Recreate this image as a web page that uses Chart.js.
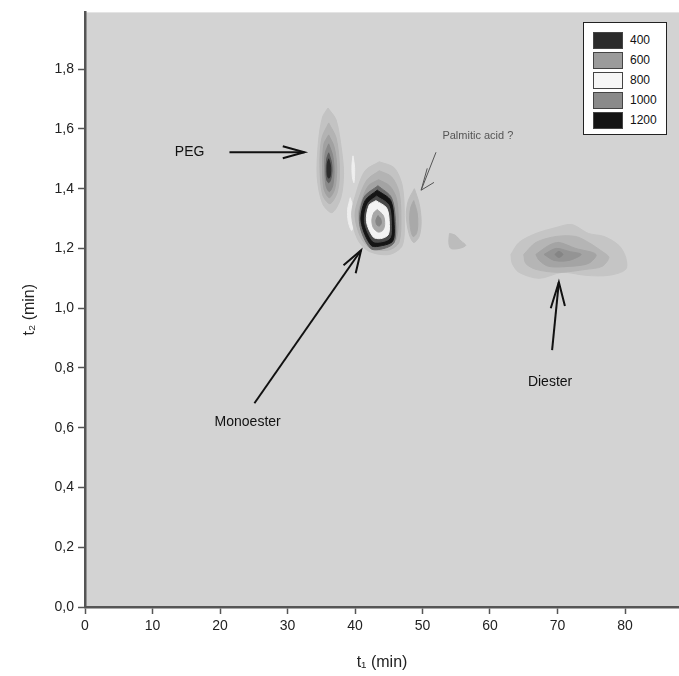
<!DOCTYPE html>
<html>
<head>
<meta charset="utf-8">
<script src="https://cdn.jsdelivr.net/npm/chart.js@4.4.0/dist/chart.umd.min.js"></script>
<style>
  body { margin: 0; background: #fff; }
  #wrap { position: relative; width: 679px; height: 676px; }
  #legendBox {
    position: absolute; left: 583px; top: 22px; width: 82px; height: 111px;
    background: #fff; border: 1px solid #222;
    font-family: "Liberation Sans", Arial, sans-serif; font-size: 12px; color: #111;
  }
  .row { position: absolute; left: 9px; height: 18px; display: flex; align-items: center; }
  .sw { width: 30px; height: 17px; border: 1px solid #444; box-sizing: border-box; margin-right: 7px; }
</style>
</head>
<body>
<div id="wrap">
  <canvas id="chart"></canvas>
  <div id="legendBox"></div>
</div>
<script>
// contour legend
const legendValues = ['400', '600', '800', '1000', '1200'];
const legendColors = ['#2b2b2b', '#9b9b9b', '#f6f6f6', '#8a8a8a', '#141414'];

// axis ticks
const xTicks = [0, 10, 20, 30, 40, 50, 60, 70, 80];
const yTicks = [0, 0.2, 0.4, 0.6, 0.8, 1.0, 1.2, 1.4, 1.6, 1.8];

// contour outlines, [t1 (min), t2 (min)]
// PEG
const peg1 = [[36.0,1.67],[37.2,1.63],[38.0,1.53],[38.3,1.45],[37.9,1.37],[36.6,1.32],[35.2,1.35],[34.4,1.44],[34.6,1.56],[35.2,1.64]];
const peg2 = [[36.1,1.62],[37.2,1.57],[37.7,1.47],[37.4,1.39],[36.3,1.35],[35.2,1.38],[34.8,1.48],[35.1,1.57]];
const peg3 = [[36.1,1.58],[36.9,1.54],[37.3,1.47],[37.0,1.40],[36.2,1.37],[35.4,1.40],[35.2,1.48],[35.4,1.55]];
const peg4 = [[36.1,1.55],[36.7,1.51],[36.9,1.46],[36.7,1.41],[36.2,1.39],[35.7,1.41],[35.5,1.47],[35.6,1.52]];
const peg5 = [[36.1,1.52],[36.5,1.49],[36.6,1.46],[36.4,1.43],[36.1,1.42],[35.8,1.43],[35.7,1.46],[35.8,1.50]];
const peg6 = [[36.1,1.50],[36.35,1.48],[36.4,1.46],[36.3,1.44],[36.1,1.435],[35.9,1.445],[35.85,1.465],[35.9,1.485]];
// white slivers
const sliver1 = [[39.7,1.51],[39.95,1.47],[39.85,1.42],[39.6,1.44],[39.55,1.48]];
const sliver2 = [[39.3,1.37],[39.8,1.33],[39.9,1.28],[39.5,1.26],[39.0,1.29],[38.9,1.33]];
// Monoester
const mono1 = [[43.6,1.49],[45.8,1.47],[47.0,1.41],[47.3,1.31],[47.0,1.21],[45.1,1.18],[42.1,1.19],[40.4,1.23],[39.5,1.31],[40.1,1.38],[41.5,1.46]];
const mono2 = [[43.6,1.46],[45.4,1.44],[46.5,1.39],[46.8,1.31],[46.5,1.22],[45.0,1.195],[42.3,1.20],[40.8,1.24],[40.0,1.31],[40.6,1.37],[41.8,1.43]];
const mono3 = [[43.5,1.43],[45.1,1.41],[46.1,1.37],[46.4,1.30],[46.1,1.23],[44.9,1.21],[42.5,1.21],[41.1,1.25],[40.5,1.31],[41.0,1.36],[42.0,1.41]];
const mono4 = [[43.4,1.41],[45.4,1.37],[46.0,1.29],[45.8,1.22],[44.3,1.20],[42.3,1.20],[40.7,1.28],[41.3,1.37]];
const mono5 = [[43.3,1.395],[45.3,1.36],[45.8,1.28],[45.6,1.225],[44.1,1.21],[42.4,1.21],[40.9,1.29],[41.5,1.36]];
const mono6 = [[43.2,1.375],[45.0,1.345],[45.4,1.28],[45.2,1.235],[43.9,1.222],[42.6,1.225],[41.4,1.29],[41.9,1.35]];
const mono7 = [[43.1,1.36],[44.7,1.335],[45.1,1.28],[44.9,1.245],[43.8,1.233],[42.7,1.238],[41.7,1.29],[42.1,1.345]];
const mono8 = [[43.3,1.33],[44.2,1.31],[44.4,1.28],[44.1,1.26],[43.4,1.255],[42.7,1.27],[42.5,1.295],[42.8,1.32]];
const mono9 = [[43.4,1.31],[43.8,1.30],[43.9,1.285],[43.6,1.275],[43.2,1.28],[43.1,1.295]];
// Palmitic acid
const palm1 = [[48.8,1.40],[49.5,1.35],[49.8,1.29],[49.5,1.24],[48.7,1.22],[48.0,1.25],[47.6,1.31],[47.9,1.36]];
const palm2 = [[48.7,1.36],[49.2,1.32],[49.3,1.28],[49.1,1.25],[48.6,1.24],[48.2,1.27],[48.1,1.31],[48.3,1.34]];
const spot1 = [[54.0,1.25],[54.8,1.245],[55.7,1.225],[56.4,1.21],[55.4,1.20],[54.2,1.20],[53.9,1.22]];
// Diester
const dies1 = [[63.1,1.18],[64.3,1.22],[66.8,1.25],[69.8,1.27],[72.1,1.28],[74.6,1.25],[76.9,1.24],[79.1,1.21],[80.1,1.17],[80.1,1.13],[77.6,1.11],[74.2,1.11],[70.7,1.12],[67.3,1.10],[64.3,1.12],[63.3,1.15]];
const dies2 = [[65.0,1.18],[66.8,1.22],[69.8,1.24],[72.7,1.24],[74.6,1.22],[76.6,1.19],[77.6,1.17],[76.6,1.14],[74.2,1.13],[70.2,1.12],[66.8,1.13],[65.3,1.15]];
const dies3 = [[66.8,1.18],[68.7,1.21],[70.2,1.22],[72.7,1.20],[75.7,1.18],[74.6,1.15],[71.7,1.14],[68.7,1.14],[67.3,1.16]];
const dies4 = [[68.0,1.18],[69.8,1.20],[71.7,1.19],[73.5,1.18],[71.7,1.16],[69.5,1.16]];
const dies5 = [[69.6,1.18],[70.2,1.19],[70.8,1.18],[70.2,1.17]];

// annotations
const labelTexts = ['PEG', 'Palmitic acid ?', 'Monoester', 'Diester'];
const labelX = [15.5, 58.2, 24.1, 68.9];
const labelY = [1.522, 1.575, 0.619, 0.753];
// arrows: shaft [tail, tip] and head [arm, tip, arm]
const pegArrow = [[21.4,1.522],[32.5,1.522]];
const pegHead = [[29.3,1.542],[32.5,1.522],[29.3,1.502]];
const palmArrow = [[52.0,1.522],[49.8,1.395]];
const palmHead = [[50.7,1.468],[49.8,1.395],[51.7,1.421]];
const monoArrow = [[25.1,0.682],[40.9,1.194]];
const monoHead = [[38.3,1.144],[40.9,1.194],[40.1,1.117]];
const diesArrow = [[69.2,0.860],[70.2,1.087]];
const diesHead = [[69.0,1.000],[70.2,1.087],[71.1,1.007]];

const FONT = '"Liberation Sans", Arial, sans-serif';

// drawing order: first is bottom
const contours = [
  [peg1, '#c3c3c3'], [peg2, '#b3b3b3'], [peg3, '#a1a1a1'], [peg4, '#898989'], [peg5, '#5c5c5c'], [peg6, '#2c2c2c'],
  [sliver1, '#efefef'], [sliver2, '#eeeeee'],
  [mono1, '#c3c3c3'], [mono2, '#b3b3b3'], [mono3, '#a3a3a3'], [mono4, '#6a6a6a'], [mono5, '#141414'],
  [mono6, '#4a4a4a'], [mono7, '#f3f3f3'], [mono8, '#a8a8a8'], [mono9, '#858585'],
  [palm1, '#bdbdbd'], [palm2, '#a9a9a9'], [spot1, '#bcbcbc'],
  [dies1, '#c5c5c5'], [dies2, '#b5b5b5'], [dies3, '#a4a4a4'], [dies4, '#949494'], [dies5, '#858585']
];

const toPts = arr => {
  const pts = arr.map(p => ({ x: p[0], y: p[1] }));
  pts.push({ x: arr[0][0], y: arr[0][1] });
  return pts;
};
const toLine = arr => arr.map(p => ({ x: p[0], y: p[1] }));

const datasets = [];
contours.forEach(([shape, color], i) => {
  datasets.push({
    data: toPts(shape),
    showLine: true,
    fill: 'shape',
    backgroundColor: color,
    borderColor: color,
    borderWidth: 1,
    pointRadius: 0,
    tension: 0.3,
    order: 1000 - i
  });
});
const arrows = [
  [pegArrow, '#111', 2], [pegHead, '#111', 2],
  [palmArrow, '#555', 1], [palmHead, '#555', 1],
  [monoArrow, '#111', 2], [monoHead, '#111', 2],
  [diesArrow, '#111', 2], [diesHead, '#111', 2]
];
arrows.forEach(([seg, color, w]) => {
  datasets.push({
    data: toLine(seg),
    showLine: true,
    fill: false,
    borderColor: color,
    borderWidth: w,
    pointRadius: 0,
    tension: 0,
    order: 0
  });
});

// grey plot area
const plotBackground = {
  id: 'plotBackground',
  beforeDraw(chart) {
    const { ctx, chartArea: a } = chart;
    ctx.save();
    ctx.fillStyle = '#d3d3d3';
    ctx.fillRect(a.left, a.top, a.right - a.left, a.bottom - a.top);
    ctx.restore();
  }
};

const annotationText = {
  id: 'annotationText',
  afterDatasetsDraw(chart) {
    const { ctx, scales: { x, y } } = chart;
    ctx.save();
    ctx.textAlign = 'center';
    ctx.textBaseline = 'middle';
    labelTexts.forEach((t, i) => {
      const small = i === 1;
      ctx.font = (small ? '11px ' : '14px ') + FONT;
      ctx.fillStyle = small ? '#555' : '#111';
      ctx.fillText(t, x.getPixelForValue(labelX[i]), y.getPixelForValue(labelY[i]));
    });
    ctx.restore();
  }
};

const keepTicks = list => axis => {
  axis.ticks = list.map(v => ({ value: v }));
};

new Chart(document.getElementById('chart'), {
  type: 'scatter',
  data: { datasets },
  plugins: [plotBackground, annotationText],
  options: {
    responsive: true,
    maintainAspectRatio: false,
    animation: false,
    layout: { padding: { top: 12, right: 0, left: 0, bottom: 0 } },
    plugins: { legend: { display: false }, tooltip: { enabled: false } },
    scales: {
      x: {
        type: 'linear', min: 0, max: 88,
        afterBuildTicks: keepTicks(xTicks),
        afterFit: s => { s.height = 69; },
        grid: { drawOnChartArea: false, drawTicks: true, tickLength: 7, color: '#555', tickWidth: 1.5 },
        border: { color: '#555', width: 2.5 },
        ticks: { color: '#222', font: { family: FONT, size: 14 }, padding: 4, maxRotation: 0 },
        title: { display: true, text: 't₁ (min)', color: '#222', font: { family: FONT, size: 16 }, padding: { top: 4, bottom: 4 } }
      },
      y: {
        type: 'linear', min: 0, max: 1.99,
        afterBuildTicks: keepTicks(yTicks),
        afterFit: s => { s.width = 85; },
        grid: { drawOnChartArea: false, drawTicks: true, tickLength: 7, color: '#555', tickWidth: 1.5 },
        border: { color: '#555', width: 2.5 },
        ticks: { color: '#222', font: { family: FONT, size: 14 }, padding: 4,
          callback: v => v.toFixed(1).replace('.', ',') },
        title: { display: true, text: 't₂ (min)', color: '#222', font: { family: FONT, size: 16 }, padding: { top: 20, bottom: 0 } }
      }
    }
  }
});

// legend box
const box = document.getElementById('legendBox');
legendValues.forEach((v, i) => {
  const row = document.createElement('div');
  row.className = 'row';
  row.style.top = (8 + i * 20) + 'px';
  const sw = document.createElement('div');
  sw.className = 'sw';
  sw.style.background = legendColors[i];
  const lab = document.createElement('span');
  lab.textContent = v;
  row.appendChild(sw);
  row.appendChild(lab);
  box.appendChild(row);
});
</script>
</body>
</html>
